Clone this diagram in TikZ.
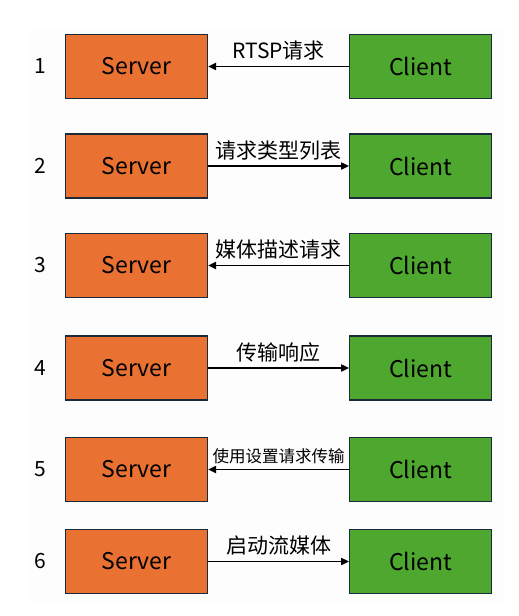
\documentclass[tikz,border=0pt]{standalone}
\usepackage{fontspec}
\setmainfont{Noto Sans CJK SC}
\usetikzlibrary{positioning,arrows.meta}
\definecolor{srvorange}{HTML}{E97132}
\definecolor{cligreen}{HTML}{4EA72E}
\definecolor{boxedge}{HTML}{1B2A3A}

\begin{document}
\begin{tikzpicture}[
  x=1pt, y=-1pt,
  >={Triangle[length=8pt,width=7pt]},
  srv/.style={draw=boxedge, line width=1.2pt, fill=srvorange, minimum width=142pt,
    minimum height=64pt, inner sep=0pt, font=\fontsize{23}{26}\selectfont},
  cli/.style={srv, fill=cligreen},
  num/.style={font=\fontsize{21}{24}\selectfont},
  msg/.style={draw, line width=1.9pt},
  note/.style={above=5pt, inner sep=0pt, font=\fontsize{21}{24}\selectfont},
  small note/.style={note, font=\fontsize{16.5}{20}\selectfont}
]
  \useasboundingbox (0,0) rectangle (519,616);
  \fill[black!0.8] (28,29) rectangle (505,603);

  % row 1
  \node[num] (n1) at (40,66.5) {1};
  \node[srv] (srv1) at (136.5,66.5) {Server};
  \node[cli, right=141pt of srv1] (cli1) {Client};
  \draw[msg, <-] (srv1) -- (cli1) node[midway, note] {RTSP请求};

  % row 2
  \node[num] (n2) at (40,166) {2};
  \node[srv] (srv2) at (136.5,166) {Server};
  \node[cli, right=141pt of srv2] (cli2) {Client};
  \draw[msg, ->] (srv2) -- (cli2) node[midway, note] {请求类型列表};

  % row 3
  \node[num] (n3) at (40,265.5) {3};
  \node[srv] (srv3) at (136.5,265.5) {Server};
  \node[cli, right=141pt of srv3] (cli3) {Client};
  \draw[msg, <-] (srv3) -- (cli3) node[midway, note] {媒体描述请求};

  % row 4
  \node[num] (n4) at (40,368) {4};
  \node[srv] (srv4) at (136.5,368) {Server};
  \node[cli, right=141pt of srv4] (cli4) {Client};
  \draw[msg, ->] (srv4) -- (cli4) node[midway, note] {传输响应};

  % row 5
  \node[num] (n5) at (40,469.5) {5};
  \node[srv] (srv5) at (136.5,469.5) {Server};
  \node[cli, right=141pt of srv5] (cli5) {Client};
  \draw[msg, <-] (srv5) -- (cli5) node[midway, small note] {使用设置请求传输};

  % row 6
  \node[num] (n6) at (40,561.5) {6};
  \node[srv] (srv6) at (136.5,561.5) {Server};
  \node[cli, right=141pt of srv6] (cli6) {Client};
  \draw[msg, ->] (srv6) -- (cli6) node[midway, note] {启动流媒体};
\end{tikzpicture}
\end{document}
